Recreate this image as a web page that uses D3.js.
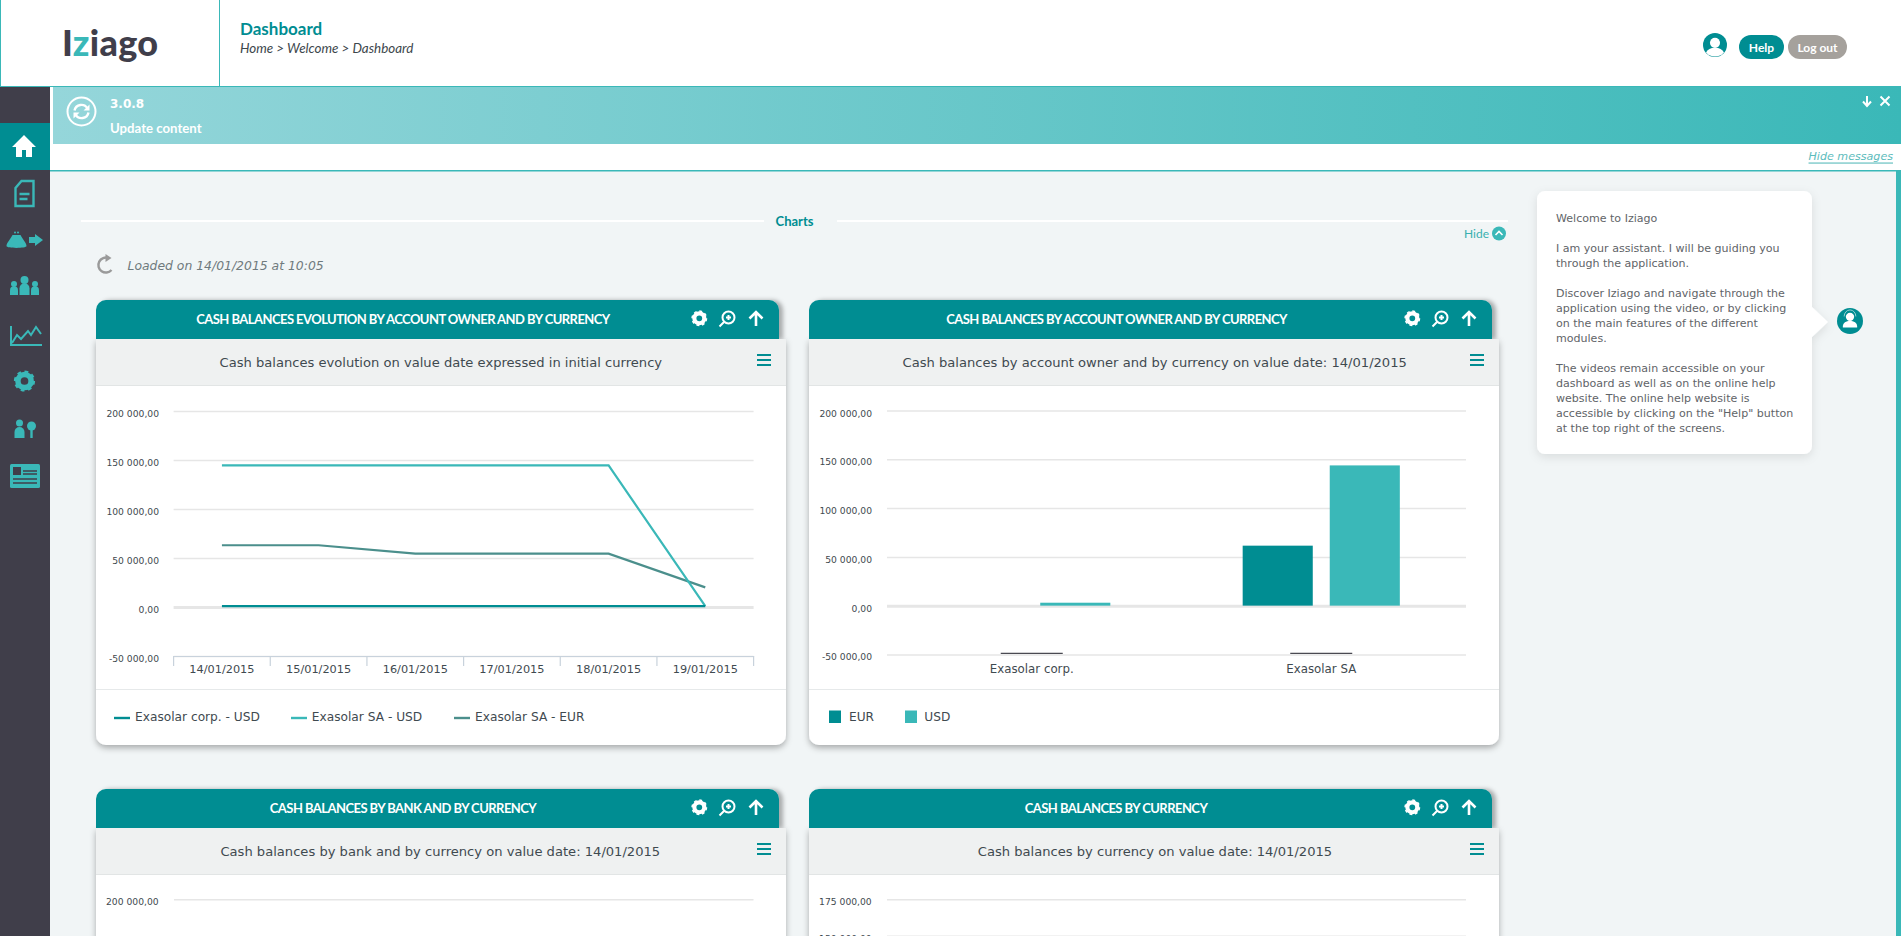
<!DOCTYPE html>
<html>
<head>
<meta charset="utf-8">
<title>Iziago Dashboard</title>
<script src="https://cdn.jsdelivr.net/npm/d3@7"></script>
<style>
  html, body { margin: 0; padding: 0; background: #f1f5f6; overflow: hidden; }
  svg { display: block; }
  text { font-family: "DejaVu Sans", sans-serif; }
  .lato { font-family: Lato, sans-serif; }
  .tick text { font-family: "DejaVu Sans", sans-serif; }
</style>
</head>
<body>
<div id="page"></div>
<script>
(function () {
  // chart values
  const dates = ["14/01/2015", "15/01/2015", "16/01/2015", "17/01/2015", "18/01/2015", "19/01/2015"];
  const corpUsd = [800, 800, 800, 800, 800, 800];
  const saUsd = [144500, 144500, 144500, 144500, 144500, 800];
  const saEur = [63000, 63000, 54500, 54500, 54500, 20000];
  const lineNames = ["Exasolar corp. - USD", "Exasolar SA - USD", "Exasolar SA - EUR"];

  const owners = ["Exasolar corp.", "Exasolar SA"];
  const currencies = ["EUR", "USD"];
  const ownerEur = [0, 61500];
  const ownerUsd = [3000, 143800];

  const mainTicks = [200000, 150000, 100000, 50000, 0, -50000];
  const bankTicks = [200000];
  const currencyTicks = [175000, 150000];

  const assistantLines = [
    "Welcome to Iziago", "",
    "I am your assistant. I will be guiding you",
    "through the application.", "",
    "Discover Iziago and navigate through the",
    "application using the video, or by clicking",
    "on the main features of the different",
    "modules.", "",
    "The videos remain accessible on your",
    "dashboard as well as on the online help",
    "website. The online help website is",
    "accessible by clicking on the \"Help\" button",
    "at the top right of the screens."
  ];

  const WIDTH = 1901, HEIGHT = 936;
  const TEAL = "#008d92", AQUA = "#3ab8b8", EUR_LINE = "#4b8f8c", DARK = "#403e4a";
  const GRID = "#e6e6e6", TEXT = "#3f4a50";

  const euro = d3.formatLocale({ decimal: ",", thousands: " ", grouping: [3], currency: ["", ""], minus: "-" }).format(",.2f");

  const svg = d3.select("#page").append("svg")
    .attr("width", WIDTH)
    .attr("height", HEIGHT)
    .attr("viewBox", `0 0 ${WIDTH} ${HEIGHT}`);

  const defs = svg.append("defs");
  const grad = defs.append("linearGradient").attr("id", "bannerGrad");
  grad.append("stop").attr("offset", "0%").attr("stop-color", "#95d6da");
  grad.append("stop").attr("offset", "100%").attr("stop-color", AQUA);
  defs.append("filter").attr("id", "cardShadow").attr("x", "-5%").attr("y", "-5%").attr("width", "110%").attr("height", "110%")
    .append("feDropShadow").attr("dx", 0).attr("dy", 3).attr("stdDeviation", 3).attr("flood-color", "#000").attr("flood-opacity", 0.3);
  defs.append("filter").attr("id", "headShadow").attr("x", "-5%").attr("y", "-20%").attr("width", "110%").attr("height", "140%")
    .append("feDropShadow").attr("dx", 4).attr("dy", 0).attr("stdDeviation", 2).attr("flood-color", "#000").attr("flood-opacity", 0.3);
  defs.append("filter").attr("id", "softShadow").attr("x", "-10%").attr("y", "-10%").attr("width", "120%").attr("height", "120%")
    .append("feDropShadow").attr("dx", 0).attr("dy", 3).attr("stdDeviation", 5).attr("flood-color", "#000").attr("flood-opacity", 0.1);

  const label = (g, x, y, str, opts = {}) => g.append("text")
    .attr("x", x)
    .attr("y", y)
    .attr("class", opts.cls || null)
    .attr("text-anchor", opts.anchor || "start")
    .attr("dominant-baseline", "central")
    .attr("font-size", opts.size || 12)
    .attr("font-weight", opts.weight || 400)
    .attr("font-style", opts.italic ? "italic" : "normal")
    .attr("letter-spacing", opts.spacing || null)
    .attr("fill", opts.fill || TEXT)
    .text(str);

  const icon = (g, x, y, d, fill, stroke, sw) => g.append("path")
    .attr("transform", `translate(${x},${y})`)
    .attr("d", d)
    .attr("fill", fill || "none")
    .attr("stroke", stroke || "none")
    .attr("stroke-width", sw || 0);

  function gear(g, x, y, r, color) {
    g.append("circle").attr("cx", x).attr("cy", y).attr("r", r * 0.66)
      .attr("fill", "none").attr("stroke", color).attr("stroke-width", r * 0.55);
    g.append("circle").attr("cx", x).attr("cy", y).attr("r", r * 0.96)
      .attr("fill", "none").attr("stroke", color).attr("stroke-width", r * 0.2)
      .attr("stroke-dasharray", `${r * 0.38} ${r * 0.37}`);
  }

  function user(g, x, y, r, ringed) {
    g.append("circle").attr("cx", x).attr("cy", y).attr("r", r).attr("fill", TEAL);
    if (ringed) {
      g.append("circle").attr("cx", x).attr("cy", y - r * 0.18).attr("r", r * 0.42).attr("fill", "#fff");
      g.append("path").attr("d", `M${x - r * 0.75},${y + r * 0.62} a${r * 0.8},${r * 0.6} 0 0 1 ${r * 1.5},0 a${r},${r} 0 0 1 ${-r * 1.5},0 z`).attr("fill", "#fff");
    } else {
      g.append("circle").attr("cx", x).attr("cy", y - r * 0.32).attr("r", r * 0.32).attr("fill", "#fff");
      g.append("path").attr("d", `M${x - r * 0.55},${y + r * 0.5} v-${r * 0.12} a${r * 0.55},${r * 0.4} 0 0 1 ${r * 1.1},0 v${r * 0.12} z`).attr("fill", "#fff");
      g.append("path").attr("d", `M${x - r * 0.45},${y - r * 0.35} a${r * 0.45},${r * 0.5} 0 0 1 ${r * 0.9},0`).attr("fill", "none").attr("stroke", "#8fd0d0").attr("stroke-width", 1);
    }
  }

  function drawShell() {
    const top = svg.append("g");
    top.append("rect").attr("width", WIDTH).attr("height", 86).attr("fill", "#fff");
    top.append("rect").attr("y", 0).attr("width", 1).attr("height", 86).attr("fill", AQUA);
    top.append("rect").attr("x", 219).attr("width", 1).attr("height", 86).attr("fill", AQUA);
    top.append("rect").attr("y", 86).attr("width", WIDTH).attr("height", 1).attr("fill", AQUA);

    const logo = top.append("text").attr("class", "lato").attr("x", 62).attr("y", 56)
      .attr("font-size", 36).attr("font-weight", 900).attr("letter-spacing", 0.3).attr("fill", DARK);
    logo.append("tspan").text("I");
    logo.append("tspan").attr("fill", AQUA).text("z");
    logo.append("tspan").text("iago");

    label(top, 240, 28, "Dashboard", { cls: "lato", size: 17, weight: 700, fill: TEAL });
    label(top, 240, 48, "Home > Welcome > Dashboard", { cls: "lato", size: 13.4, italic: true, fill: "#3d474c" });

    user(top, 1715, 45, 12, true);
    top.append("rect").attr("x", 1739).attr("y", 35).attr("width", 45).attr("height", 24).attr("rx", 12).attr("fill", TEAL);
    label(top, 1761.5, 47, "Help", { cls: "lato", anchor: "middle", size: 12, weight: 700, fill: "#fff" });
    top.append("rect").attr("x", 1788).attr("y", 35).attr("width", 59).attr("height", 24).attr("rx", 12).attr("fill", "#a5a19c");
    label(top, 1817.5, 47, "Log out", { cls: "lato", anchor: "middle", size: 12, weight: 700, fill: "#fff" });

    // update banner
    const banner = svg.append("g");
    banner.append("rect").attr("x", 50).attr("y", 87).attr("width", WIDTH - 50).attr("height", 83).attr("fill", "#fff");
    banner.append("rect").attr("x", 53).attr("y", 87).attr("width", WIDTH - 53).attr("height", 57).attr("fill", "url(#bannerGrad)");
    banner.append("rect").attr("x", 50).attr("y", 170).attr("width", WIDTH - 50).attr("height", 1.5).attr("fill", AQUA);
    banner.append("circle").attr("cx", 81.5).attr("cy", 111.5).attr("r", 14).attr("fill", "none").attr("stroke", "#fff").attr("stroke-width", 2);
    icon(banner, 81.5, 111.5, "M-7,-1 A7,7 0 0 1 6,-3 M7,1 A7,7 0 0 1 -6,3", "none", "#fff", 2.4);
    icon(banner, 81.5, 111.5, "M8,-7 V-1 H2 Z M-8,7 V1 H-2 Z", "#fff");
    label(banner, 110, 104, "3.0.8", { size: 12, weight: 700, fill: "#fff" });
    label(banner, 110, 127.5, "Update content", { cls: "lato", size: 13.2, weight: 700, fill: "#fff" });
    icon(banner, 1867, 101, "M0,-5 V4 M-4,0.5 L0,5 L4,0.5", "none", "#fff", 2);
    icon(banner, 1885, 101, "M-4.5,-4.5 L4.5,4.5 M4.5,-4.5 L-4.5,4.5", "none", "#fff", 2);
    const hide = label(banner, 1893, 156, "Hide messages", { anchor: "end", size: 11.1, italic: true, fill: "#5cbcbc" });
    hide.attr("text-decoration", "underline");

    // right edge strip
    svg.append("rect").attr("x", 1896).attr("y", 171).attr("width", 5).attr("height", HEIGHT - 171).attr("fill", AQUA);

    drawSidebar();

    // section heading
    svg.append("rect").attr("x", 81).attr("y", 220).attr("width", 683).attr("height", 2).attr("fill", "#fff");
    svg.append("rect").attr("x", 837).attr("y", 220).attr("width", 671).attr("height", 2).attr("fill", "#fff");
    label(svg, 794.5, 221, "Charts", { cls: "lato", anchor: "middle", size: 13, weight: 700, fill: TEAL });
    label(svg, 1489, 233.5, "Hide", { cls: "lato", anchor: "end", size: 12, fill: "#3ab0b0" });
    svg.append("circle").attr("cx", 1499).attr("cy", 233.5).attr("r", 7).attr("fill", AQUA);
    icon(svg, 1499, 233.5, "M-3.5,1.5 L0,-2 L3.5,1.5", "none", "#fff", 1.6);

    icon(svg, 105.5, 265, "M3,-7 A7.5,7.5 0 1 0 6,5", "none", "#9a9a9a", 2.4);
    icon(svg, 105.5, 265, "M0,-11 L6,-7 L0,-3 Z", "#9a9a9a");
    label(svg, 127.5, 265, "Loaded on 14/01/2015 at 10:05", { size: 12.4, italic: true, fill: "#6f7a7d" });

    // assistant bubble
    const bubble = svg.append("g");
    bubble.append("path")
      .attr("d", "M1545,191 H1804 a8,8 0 0 1 8,8 V307 L1828,322 L1812,337 V446 a8,8 0 0 1 -8,8 H1545 a8,8 0 0 1 -8,-8 V199 a8,8 0 0 1 8,-8 Z")
      .attr("fill", "#fff")
      .attr("filter", "url(#softShadow)");
    assistantLines.forEach((line, i) => {
      if (line) label(bubble, 1556, 218 + i * 15, line, { size: 11.05, fill: "#5f6468" });
    });
    user(bubble, 1850, 321, 13, false);
  }

  function drawSidebar() {
    const side = svg.append("g");
    side.append("rect").attr("y", 87).attr("width", 50).attr("height", HEIGHT - 87).attr("fill", DARK);
    side.append("rect").attr("y", 123).attr("width", 50).attr("height", 47).attr("fill", TEAL);
    icon(side, 24, 146, "M0,-11 L12,1 H8 V11 H2 V4 H-2 V11 H-8 V1 H-12 Z", "#fff");

    icon(side, 24.5, 193, "M-3,-12 H9 V13 H-9 V-5 Z M-5,1 H5 M-5,6 H3", "none", AQUA, 2.4);
    icon(side, 16.5, 240, "M-4,-5 H4 C6,-1 10,3 10,6 C10,8.5 -10,8.5 -10,6 C-10,3 -6,-1 -4,-5 Z", AQUA);
    side.append("circle").attr("cx", 15).attr("cy", 232.5).attr("r", 1).attr("fill", AQUA);
    side.append("circle").attr("cx", 18).attr("cy", 232.5).attr("r", 1).attr("fill", AQUA);
    icon(side, 35, 240, "M-6,-3 H0 V-6 L8,0 L0,6 V3 H-6 Z", AQUA);

    const people = [[14, 287, 3, 7], [24.5, 284, 4, 10], [35, 287, 3, 7]];
    people.forEach(([x, y, r, h]) => {
      side.append("circle").attr("cx", x).attr("cy", y - r).attr("r", r).attr("fill", AQUA);
      icon(side, x, y + 1, `M${-r - 1},${h} V${h / 3} a${r + 1},${r + 1} 0 0 1 ${2 * r + 2},0 V${h} Z`, AQUA);
    });

    icon(side, 0, 0, "M11,326 V345 H42 M12,343 L17,335 L21,339 L28,331 L31,335 L36,327 L41,334", "none", AQUA, 2);
    gear(side, 24.5, 381, 10, AQUA);

    side.append("circle").attr("cx", 19.5).attr("cy", 423).attr("r", 3.5).attr("fill", AQUA);
    icon(side, 19.5, 428, "M-5,10 V4 a5,5 0 0 1 10,0 V10 Z", AQUA);
    side.append("circle").attr("cx", 31.5).attr("cy", 426).attr("r", 4.5).attr("fill", AQUA);
    icon(side, 31.5, 428, "M-1.2,0 V10 H1.2 V0 Z", AQUA);

    side.append("rect").attr("x", 10).attr("y", 464).attr("width", 30).attr("height", 24).attr("rx", 1.5).attr("fill", AQUA);
    side.append("rect").attr("x", 13).attr("y", 467).attr("width", 8).attr("height", 8).attr("fill", DARK);
    icon(side, 0, 0, "M23,471 H37 M23,474 H37 M13,479 H37 M13,483 H37", "none", DARK, 1.4);
  }

  function drawCard(x, y, title, subtitle, titleCx, subCx, bodyH) {
    const W = 690;
    const g = svg.append("g");
    g.append("path")
      .attr("d", `M${x},${y + 39} H${x + W} V${y + bodyH - 10} a10,10 0 0 1 -10,10 H${x + 10} a10,10 0 0 1 -10,-10 Z`)
      .attr("fill", "#fff")
      .attr("filter", "url(#cardShadow)");
    g.append("path")
      .attr("d", `M${x},${y + 39} V${y + 10} a10,10 0 0 1 10,-10 H${x + 673} a10,10 0 0 1 10,10 V${y + 39} Z`)
      .attr("fill", TEAL)
      .attr("filter", "url(#headShadow)");
    g.append("rect").attr("x", x).attr("y", y + 39).attr("width", W).attr("height", 47).attr("fill", "#eff1f1");
    g.append("rect").attr("x", x).attr("y", y + 85).attr("width", W).attr("height", 1).attr("fill", "#e2e5e5");

    label(g, titleCx, y + 19, title, { cls: "lato", anchor: "middle", size: 13, weight: 700, spacing: -0.55, fill: "#fff" });
    label(g, subCx, y + 62.5, subtitle, { anchor: "middle", size: 13.1, fill: "#3f4a50" });

    gear(g, x + 603.3, y + 18.3, 7.5, "#fff");
    g.append("circle").attr("cx", x + 632.5).attr("cy", y + 17.5).attr("r", 6).attr("fill", "none").attr("stroke", "#fff").attr("stroke-width", 2);
    icon(g, x + 632.5, y + 17.5, "M-4.5,4.5 L-9,9 M-2.5,0 H2.5 M0,-2.5 V2.5", "none", "#fff", 2);
    icon(g, x + 660, y + 18.5, "M0,7.5 V-6.5 M-6.5,0 L0,-6.5 L6.5,0", "none", "#fff", 2.6);

    icon(g, x + 668, y + 60, "M-7,-5 H7 M-7,0 H7 M-7,5 H7", "none", TEAL, 2);
    return g;
  }

  function addYAxis(g, y, ticks, left, width, labelGap) {
    const axis = g.append("g")
      .attr("transform", `translate(${left},0)`)
      .call(d3.axisLeft(y).tickValues(ticks).tickFormat(euro).tickSize(-width).tickPadding(labelGap));
    axis.select(".domain").remove();
    axis.selectAll(".tick line")
      .attr("stroke", GRID)
      .attr("stroke-width", d => d === 0 ? 3 : 1.5);
    axis.selectAll(".tick text")
      .attr("y", 2.5)
      .attr("font-size", 9.2)
      .attr("font-family", null)
      .attr("fill", TEXT);
    return axis;
  }

  function drawEvolution() {
    const g = drawCard(96, 300, "CASH BALANCES EVOLUTION BY ACCOUNT OWNER AND BY CURRENCY",
      "Cash balances evolution on value date expressed in initial currency", 403, 440.8, 445);
    const left = 173.6, width = 580;
    const y = d3.scaleLinear().domain([-50000, 200000]).range([656, 411]);
    const x = d3.scaleBand().domain(dates).range([left, left + width]);
    addYAxis(g, y, mainTicks, left, width, 14.6);

    const xAxis = g.append("g")
      .attr("transform", `translate(0,${y(-50000)})`)
      .call(d3.axisBottom(x).tickSize(0).tickPadding(9));
    xAxis.select(".domain").attr("stroke", "#c8d2dc").attr("stroke-width", 1.2);
    xAxis.selectAll(".tick text").attr("font-size", 11.3).attr("font-family", null).attr("fill", TEXT);
    xAxis.selectAll(".edge")
      .data(dates.concat("end"))
      .join("line")
      .attr("class", "edge")
      .attr("x1", (d, i) => left + i * x.step())
      .attr("x2", (d, i) => left + i * x.step())
      .attr("y1", 0)
      .attr("y2", 10)
      .attr("stroke", "#c8d2dc")
      .attr("stroke-width", 1.2);

    const line = d3.line()
      .x((d, i) => x(dates[i]) + x.bandwidth() / 2)
      .y(d => y(d));
    const series = [
      { values: saEur, color: EUR_LINE },
      { values: saUsd, color: AQUA },
      { values: corpUsd, color: TEAL }
    ];
    g.append("g").selectAll("path")
      .data(series)
      .join("path")
      .attr("d", d => line(d.values))
      .attr("fill", "none")
      .attr("stroke", d => d.color)
      .attr("stroke-width", 2.2);

    g.append("rect").attr("x", 96).attr("y", 689).attr("width", 690).attr("height", 1).attr("fill", "#e6e9ea");
    const legend = [
      { x: 114, tx: 135, color: TEAL },
      { x: 291, tx: 311.8, color: AQUA },
      { x: 454, tx: 475, color: EUR_LINE }
    ];
    legend.forEach((d, i) => {
      g.append("rect").attr("x", d.x).attr("y", 716.8).attr("width", 16).attr("height", 2.4).attr("fill", d.color);
      label(g, d.tx, 716.7, lineNames[i], { size: 12.2 });
    });
  }

  function drawOwners() {
    const g = drawCard(809, 300, "CASH BALANCES BY ACCOUNT OWNER AND BY CURRENCY",
      "Cash balances by account owner and by currency on value date: 14/01/2015", 1116.6, 1154.7, 445);
    const left = 887, width = 579;
    const y = d3.scaleLinear().domain([-50000, 200000]).range([654.4, 410.6]);
    const x0 = d3.scaleBand().domain(owners).range([left, left + width]);
    const x1 = d3.scaleBand().domain(currencies).range([0, x0.bandwidth()]).paddingInner(0.195).paddingOuter(0.76);
    const color = d3.scaleOrdinal().domain(currencies).range([TEAL, AQUA]);
    addYAxis(g, y, mainTicks, left, width, 15);

    const rows = owners.flatMap((o, i) => [
      { owner: o, cur: "EUR", value: ownerEur[i] },
      { owner: o, cur: "USD", value: ownerUsd[i] }
    ]);
    g.append("g").selectAll("rect")
      .data(rows)
      .join("rect")
      .attr("x", d => x0(d.owner) + x1(d.cur))
      .attr("y", d => y(d.value))
      .attr("width", x1.bandwidth())
      .attr("height", d => y(0) - y(d.value))
      .attr("fill", d => color(d.cur));

    const xAxis = g.append("g")
      .attr("transform", `translate(0,${y(-50000)})`)
      .call(d3.axisBottom(x0).tickSize(0).tickPadding(10));
    xAxis.select(".domain").remove();
    xAxis.selectAll(".tick text").attr("font-size", 11.8).attr("font-family", null).attr("fill", TEXT);
    xAxis.selectAll(".tick").append("line")
      .attr("x1", -31).attr("x2", 31).attr("y1", -1).attr("y2", -1)
      .attr("stroke", "#4a4a52").attr("stroke-width", 1.2);

    g.append("rect").attr("x", 809).attr("y", 689).attr("width", 690).attr("height", 1).attr("fill", "#e6e9ea");
    const legend = [{ x: 829, tx: 849 }, { x: 905, tx: 924.3 }];
    legend.forEach((d, i) => {
      g.append("rect").attr("x", d.x).attr("y", 710.5).attr("width", 12).attr("height", 12.5).attr("fill", color(currencies[i]));
      label(g, d.tx, 716.7, currencies[i], { size: 12.2 });
    });
  }

  function drawLowerCards() {
    const bank = drawCard(96, 789, "CASH BALANCES BY BANK AND BY CURRENCY",
      "Cash balances by bank and by currency on value date: 14/01/2015", 403, 440.3, 445);
    const yBank = d3.scaleLinear().domain([150000, 200000]).range([948, 899.3]);
    addYAxis(bank, yBank, bankTicks, 174, 579.5, 15.4);

    const cur = drawCard(809, 789, "CASH BALANCES BY CURRENCY",
      "Cash balances by currency on value date: 14/01/2015", 1116, 1155, 445);
    const yCur = d3.scaleLinear().domain([150000, 175000]).range([935.8, 899.3]);
    addYAxis(cur, yCur, currencyTicks, 887, 579, 15.3);
  }

  drawShell();
  drawEvolution();
  drawOwners();
  drawLowerCards();
})();
</script>
</body>
</html>
